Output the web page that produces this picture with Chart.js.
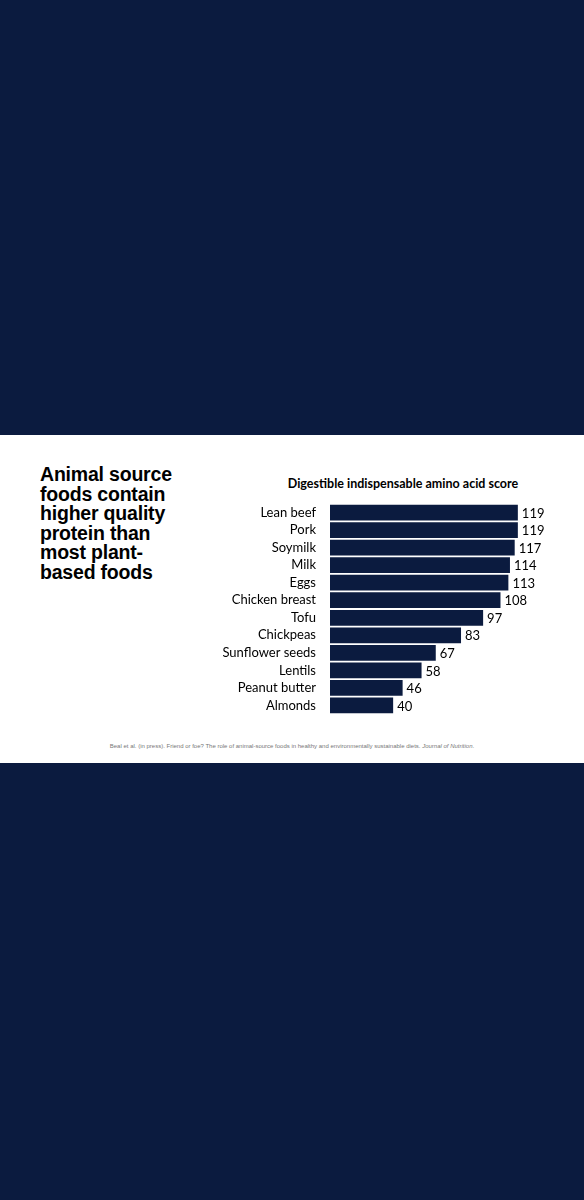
<!DOCTYPE html>
<html>
<head>
<meta charset="utf-8">
<script src="https://cdn.jsdelivr.net/npm/chart.js@4.4.0/dist/chart.umd.min.js"></script>
<style>
  body { margin: 0; background: #0b1b3f; width: 584px; height: 1200px; position: relative; overflow: hidden; }
  #band { position: absolute; left: 0; top: 435px; width: 584px; height: 328px; background: #fff; }
  #headline { position: absolute; left: 40px; top: 465px; width: 170px; font: 900 19.5px/19.5px "Liberation Sans", Arial, sans-serif; color: #000; letter-spacing: -0.2px; }
  #ctitle { position: absolute; left: 240px; top: 476px; width: 326px; text-align: center; font: bold 12.5px "Lato", "Noto Sans", sans-serif; color: #000; }
  #wrap { position: absolute; left: 200px; top: 490px; width: 360px; height: 238px; }
  #src { position: absolute; left: 0; top: 743px; width: 584px; text-align: center; font: 6px "Liberation Sans", Arial, sans-serif; color: #777; }
</style>
</head>
<body>
<div id="band"></div>
<div id="headline">Animal source<br>foods contain<br>higher quality<br>protein than<br>most plant-<br>based foods</div>
<div id="ctitle">Digestible indispensable amino acid score</div>
<div id="wrap"><canvas id="diaasChart"></canvas></div>
<div id="src">Beal et al. (in press). Friend or foe? The role of animal-source foods in healthy and environmentally sustainable diets. <i>Journal of Nutrition</i>.</div>
<script>
// data
const foods = ['Lean beef', 'Pork', 'Soymilk', 'Milk', 'Eggs', 'Chicken breast', 'Tofu',
               'Chickpeas', 'Sunflower seeds', 'Lentils', 'Peanut butter', 'Almonds'];
const scores = [119, 119, 117, 114, 113, 108, 97, 83, 67, 58, 46, 40];

// value labels at the end of each bar
const valueLabels = {
    id: 'valueLabels',
    afterDatasetsDraw: function(chart) {
        const ctx = chart.ctx;
        const meta = chart.getDatasetMeta(0);
        ctx.save();
        ctx.font = '13px Lato, "Noto Sans", sans-serif';
        ctx.fillStyle = '#000';
        ctx.textBaseline = 'middle';
        meta.data.forEach(function(bar, i) {
            ctx.fillText(scores[i], bar.x + 4, bar.y + 1);
        });
        ctx.restore();
    }
};

new Chart(document.getElementById('diaasChart'), {
    type: 'bar',
    data: {
        labels: foods,
        datasets: [{
            data: scores,
            backgroundColor: '#0b1b3f',
            categoryPercentage: 1,
            barPercentage: 0.9
        }]
    },
    options: {
        indexAxis: 'y',
        responsive: true,
        maintainAspectRatio: false,
        animation: false,
        layout: { padding: { right: 9, top: 0, bottom: 0 } },
        plugins: { legend: { display: false }, tooltip: { enabled: false } },
        scales: {
            x: { min: 0, max: 140, display: false },
            y: {
                afterFit: function(scale) { scale.width = 130; },
                grid: { display: false },
                border: { display: false },
                ticks: { color: '#000', font: { size: 13, family: 'Lato, "Noto Sans", sans-serif' }, padding: 6 }
            }
        }
    },
    plugins: [valueLabels]
});
</script>
</body>
</html>
